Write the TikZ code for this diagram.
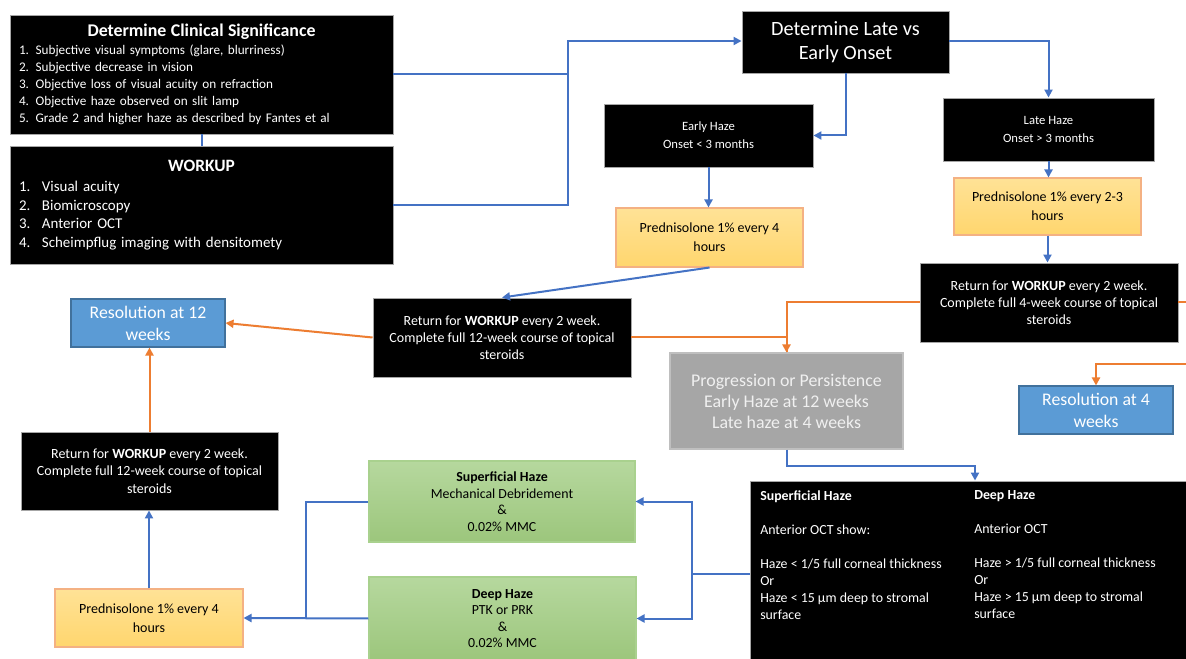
\documentclass[tikz,border=0pt]{standalone}
\usepackage{fontspec}
\setmainfont{Carlito}
\usetikzlibrary{arrows.meta}
\definecolor{cblue}{RGB}{68,114,196}
\definecolor{corange}{RGB}{237,125,49}
\definecolor{resfill}{RGB}{91,155,213}
\definecolor{resdraw}{RGB}{65,113,156}
\definecolor{orgtop}{RGB}{255,226,150}
\definecolor{orgbot}{RGB}{255,214,110}
\definecolor{orgdraw}{RGB}{244,177,131}
\definecolor{grntop}{RGB}{182,216,158}
\definecolor{grnbot}{RGB}{156,198,124}
\definecolor{grndraw}{RGB}{169,209,142}
\definecolor{gryfill}{RGB}{166,166,166}
\definecolor{grydraw}{RGB}{191,191,191}
\definecolor{grytext}{RGB}{240,240,240}
\newcommand\mybox[7]{\node[#1,minimum width={(#4-#2)*0.75pt},minimum height={(#5-#3)*0.75pt}] (#6) at ({(#2+#4)/2},{(#3+#5)/2}) {#7};}
\tikzset{
  bx/.style={rectangle,inner sep=0pt,align=center},
  blk/.style={bx,fill=black,draw=gray!70,line width=0.7pt,text=white},
  org/.style={bx,top color=orgtop,bottom color=orgbot,draw=orgdraw,line width=0.8pt},
  grn/.style={bx,top color=grntop,bottom color=grnbot,draw=grndraw,line width=0.8pt},
  res/.style={bx,fill=resfill,draw=resdraw,line width=0.8pt,text=white,font=\fontsize{13.3pt}{16.5pt}\selectfont},
  gry/.style={bx,fill=gryfill,draw=grydraw,line width=0.8pt,text=grytext,font=\fontsize{13.4pt}{15.75pt}\selectfont},
  bl/.style={draw=cblue,line width=1.5pt},
  bla/.style={bl,-{Triangle[length=6pt,width=6pt]}},
  orl/.style={draw=corange,line width=1.5pt},
  orla/.style={orl,-{Triangle[length=6pt,width=6pt]}},
  fret/.style={font=\fontsize{10.5pt}{12.9pt}\selectfont},
  fpred/.style={font=\fontsize{10.5pt}{14.25pt}\selectfont},
  fgrn/.style={font=\fontsize{10.4pt}{12.4pt}\selectfont},
  fbig/.style={font=\fontsize{10.4pt}{12.75pt}\selectfont,text=white,anchor=north west,align=left,inner sep=0pt},
}
\begin{document}
\begin{tikzpicture}[x=0.75pt,y=-0.75pt]
\useasboundingbox (0,0) rectangle (1186,659);
\clip (0,0) rectangle (1186,659);
\fill[white] (0,0) rectangle (1186,659);

% boxes
\mybox{blk,text width=273.75pt,align=left,font=\fontsize{9.9pt}{12.75pt}\selectfont}{10}{15}{393}{134}{cs}{\noindent\hbox to\hsize{\hss\fontsize{13.4pt}{14pt}\selectfont\bfseries Determine Clinical Significance\hss}\\[0.3pt]
1. Subjective visual symptoms (glare, blurriness)\\
2. Subjective decrease in vision\\
3. Objective loss of visual acuity on refraction\\
4. Objective haze observed on slit lamp\\
5. Grade 2 and higher haze as described by Fantes et al}

\mybox{blk,text width=273.75pt,align=left,font=\fontsize{11.2pt}{13.9pt}\selectfont}{10}{146}{393}{264}{wk}{\noindent\hbox to\hsize{\hss\fontsize{13pt}{14pt}\selectfont\bfseries WORKUP\hss}\\[1.5pt]
\makebox[17.25pt][l]{1.}Visual acuity\\
\makebox[17.25pt][l]{2.}Biomicroscopy\\
\makebox[17.25pt][l]{3.}Anterior OCT\\
\makebox[17.25pt][l]{4.}Scheimpflug imaging with densitomety}

\mybox{blk,font=\fontsize{15.2pt}{17.5pt}\selectfont}{742}{11}{949}{73}{late}{Determine Late vs\\Early Onset}
\mybox{blk,font=\fontsize{9.5pt}{13.5pt}\selectfont}{604}{104}{813}{167}{early}{Early Haze\\Onset < 3 months}
\mybox{blk,font=\fontsize{9.5pt}{13.5pt}\selectfont}{943}{98}{1154}{161}{lateh}{Late Haze\\Onset > 3 months}
\mybox{org,fpred}{616}{208}{803}{267}{predA}{Prednisolone 1\% every 4\\hours}
\mybox{org,fpred}{954}{178}{1141}{235}{predB}{Prednisolone 1\% every 2-3\\hours}
\mybox{blk,fret}{920}{263}{1178}{342}{retB}{Return for \textbf{WORKUP} every 2 week.\\Complete full 4-week course of topical\\steroids}
\mybox{blk,fret}{373}{298}{631}{377}{retA}{Return for \textbf{WORKUP} every 2 week.\\Complete full 12-week course of topical\\steroids}
\mybox{blk,fret}{21}{432}{278}{510}{retC}{Return for \textbf{WORKUP} every 2 week.\\Complete full 12-week course of topical\\steroids}
\mybox{res}{71}{299}{225}{347}{resA}{Resolution at 12\\weeks}
\mybox{res}{1019}{386}{1173}{434}{resB}{Resolution at 4\\weeks}
\mybox{gry}{670}{353}{903}{449}{prog}{Progression or Persistence\\Early Haze at 12 weeks\\Late haze at 4 weeks}
\mybox{grn,fgrn}{369}{461}{635}{542}{sup}{\textbf{Superficial Haze}\\Mechanical Debridement\\\&\\0.02\% MMC}
\mybox{grn,fgrn}{369}{577}{636}{660}{deep}{\textbf{Deep Haze}\\PTK or PRK\\\&\\0.02\% MMC}
\mybox{org,fpred}{55}{589}{243}{647}{predC}{Prednisolone 1\% every 4\\hours}
\mybox{blk}{750}{481}{1200}{667}{big}{}
\node[fbig] (bigL) at (760,490) {\textbf{Superficial Haze}\\[12.75pt]Anterior OCT show:\\[12.75pt]Haze < 1/5 full corneal thickness\\Or\\Haze < 15 µm deep to stromal\\surface};
\node[fbig] (bigR) at (974,490) {\textbf{Deep Haze}\\[12.75pt]Anterior OCT\\[12.75pt]Haze > 1/5 full corneal thickness\\Or\\Haze > 15 µm deep to stromal\\surface};

% junction coordinates
\coordinate (jA) at (568,41);
\coordinate (jB) at (692,574);
\coordinate (jC) at (306,618.5);
\coordinate (edgeA) at (1200,302.5);
\coordinate (edgeB) at (1200,364);

% connectors
\draw[bl] (cs.south) -- (wk.north);
\draw[bl] (cs.east) -| (jA);
\draw[bla] (wk.east) -| (jA) -- (jA -| late.west);
\draw[bla] (late.south) |- (early.east);
\draw[bla] (late.east |- jA) -| (lateh.north);
\draw[bla] (early.south) -- (early.south |- predA.north);
\draw[bla] (lateh.south) -- (lateh.south |- predB.north);
\draw[bla] (predB.south) -- (predB.south |- retB.north);
\draw[bla] (predA.south) -- (retA.north);
\draw[orla] (retA.west) -- (resA.east);
\draw[orl] (retA.east) -| (prog.north);
\draw[orla] (retB.west) -| (prog.north);
\draw[orl] (retB.east) -- (edgeA);
\draw[orla] (edgeB) -| (resB.north);
\draw[bla] (prog.south) -- ++(0,16) -| (big.north);
\draw[bl] (big.west) -- (jB);
\draw[bla] (jB) |- (sup.east);
\draw[bla] (jB) |- (deep.east);
\draw[bl] (sup.west) -| (jC);
\draw[bla] (deep.west) -- (predC.east);
\draw[bla] (predC.north) -- (predC.north |- retC.south);
\draw[orla] (retC.north) -- (retC.north |- resA.south);
\end{tikzpicture}
\end{document}
